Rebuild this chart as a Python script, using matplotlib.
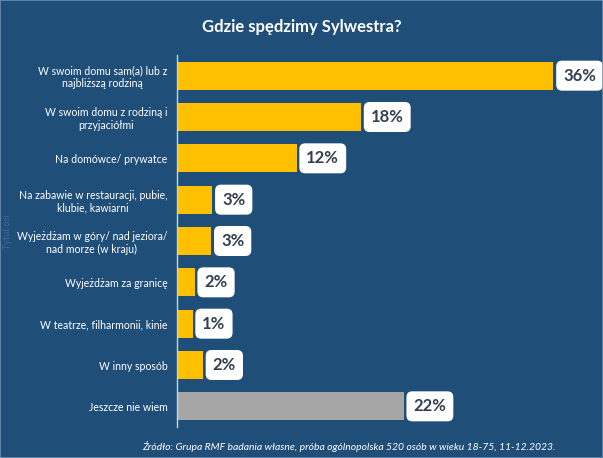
import matplotlib
matplotlib.use("Agg")
import matplotlib.pyplot as plt
from matplotlib.patches import Rectangle

categories = [
    "W swoim domu sam(a) lub z\nnajbliższą rodziną",
    "W swoim domu z rodziną i\nprzyjaciółmi",
    "Na domówce/ prywatce",
    "Na zabawie w restauracji, pubie,\nklubie, kawiarni",
    "Wyjeżdżam w góry/ nad jeziora/\nnad morze (w kraju)",
    "Wyjeżdżam za granicę",
    "W teatrze, filharmonii, kinie",
    "W inny sposób",
    "Jeszcze nie wiem",
]
values = [36.2, 17.7, 11.5, 3.4, 3.3, 1.7, 1.5, 2.5, 21.8]
value_labels = ["36%", "18%", "12%", "3%", "3%", "2%", "1%", "2%", "22%"]
bar_colors = ["#FFC000"] * 8 + ["#A6A6A6"]

BG = "#1F4E79"
W, H = 603, 458
fig = plt.figure(figsize=(W / 100, H / 100), dpi=100, facecolor=BG)
fig.patches.append(Rectangle((0, 0), 1, 1, transform=fig.transFigure,
                             fill=False, edgecolor="#6F8FB0", linewidth=1.2))

left, right, top, bottom = 177, 593, 55, 427
ax = fig.add_axes([left / W, 1 - bottom / H, (right - left) / W, (bottom - top) / H])
ax.set_facecolor(BG)

y = list(range(len(categories)))
ax.barh(y, values, height=0.68, color=bar_colors, zorder=2)
ax.set_ylim(len(categories) - 0.5, -0.5)
ax.set_xlim(0, 40)

ax.set_yticks(y)
ax.set_yticklabels(categories, fontsize=7.6, color="white", family="Lato")
for t in ax.get_yticklabels():
    t.set_multialignment("center")
ax.tick_params(axis="y", length=0, pad=7)
ax.set_xticks([])
for s in ["top", "right", "bottom"]:
    ax.spines[s].set_visible(False)
ax.spines["left"].set_color("#C9D6E3")
ax.spines["left"].set_linewidth(1.0)

for yi, v, lab in zip(y, values, value_labels):
    ax.annotate(lab, xy=(v, yi), xytext=(7, 0), textcoords="offset points",
                ha="left", va="center", fontsize=12, fontweight="bold",
                family="Lato", color="#333F50",
                bbox=dict(boxstyle="round,pad=0.42,rounding_size=0.35",
                          facecolor="white", edgecolor="none"))

fig.text(302 / W, 1 - 27 / H, "Gdzie spędzimy Sylwestra?", ha="center", va="center",
         fontsize=12, fontweight="bold", color="white", family="Lato")
fig.text(349 / W, 1 - 446 / H,
         "Źródło: Grupa RMF badania własne, próba ogólnopolska 520 osób w wieku 18-75, 11-12.2023.",
         ha="center", va="center", fontsize=7.5, style="italic", color="white", family="Lato")
fig.text(8 / W, 1 - 232 / H, "Tytuł osi", rotation=90, ha="center", va="center",
         fontsize=6.5, color="#3F6C96", family="Lato")

fig.savefig("out.png", dpi=100, facecolor=BG)
